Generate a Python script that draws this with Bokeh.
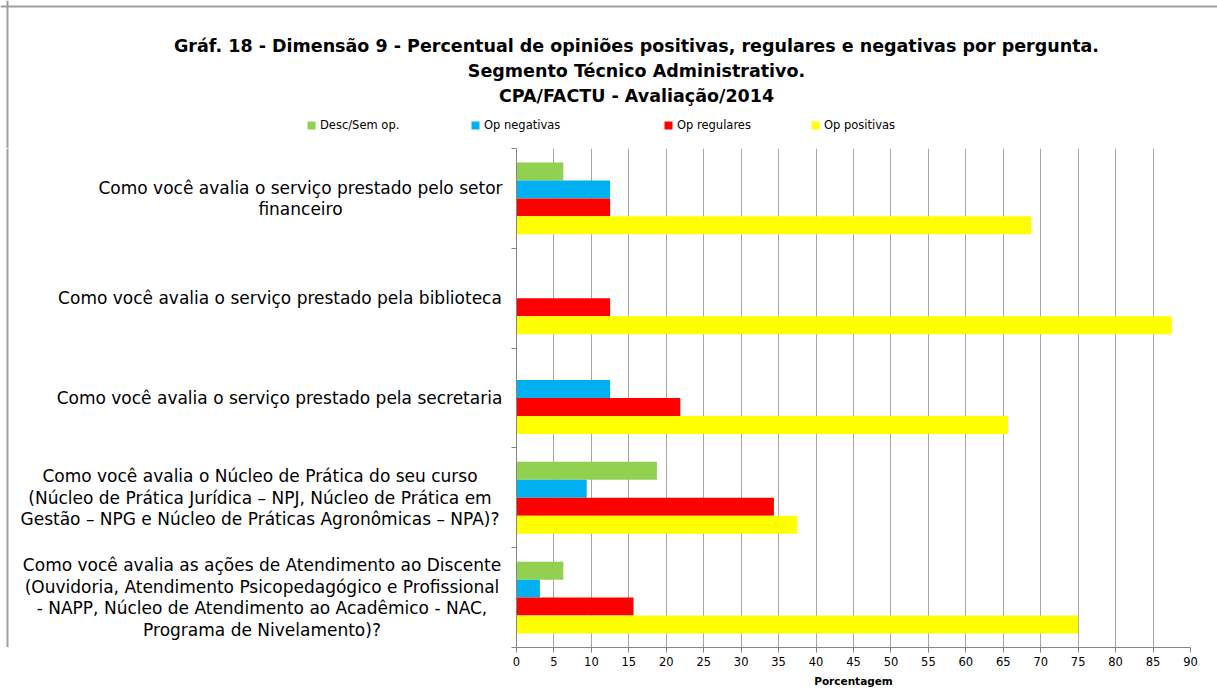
from bokeh.plotting import figure
from bokeh.layouts import column, row
from bokeh.models import (Range1d, FixedTicker, Legend, LegendItem, ColumnDataSource, Label,
                          Span, CustomJSTickFormatter)
from bokeh.embed import file_html
from bokeh.resources import INLINE

categories = [
    "Como você avalia o serviço prestado pelo setor\nfinanceiro",
    "Como você avalia o serviço prestado pela biblioteca",
    "Como você avalia o serviço prestado pela secretaria",
    "Como você avalia o Núcleo de Prática do seu curso\n(Núcleo de Prática Jurídica – NPJ, Núcleo de Prática em\nGestão – NPG e Núcleo de Práticas Agronômicas – NPA)?",
    "Como você avalia as ações de Atendimento ao Discente\n(Ouvidoria, Atendimento Psicopedagógico e Profissional\n- NAPP, Núcleo de Atendimento ao Acadêmico - NAC,\nPrograma de Nivelamento)?",
]
series_names = ["Desc/Sem op.", "Op negativas", "Op regulares", "Op positivas"]
desc = [6.25, 0, 0, 18.75, 6.25]
neg = [12.5, 0, 12.5, 9.375, 3.125]
reg = [12.5, 12.5, 21.875, 34.375, 15.625]
pos = [68.75, 87.5, 65.625, 37.5, 75.0]
x_ticks = list(range(0, 95, 5))
title_lines = [
    "Gráf. 18 - Dimensão 9 - Percentual de opiniões positivas, regulares e negativas por pergunta.",
    "Segmento Técnico Administrativo.",
    "CPA/FACTU - Avaliação/2014",
]
x_label = "Porcentagem"

colors = ["#92D050", "#00B0F0", "#FF0000", "#FFFF00"]
offsets = [0.27, 0.09, -0.09, -0.27]
FONT = "DejaVu Sans"
BORDER = "#A0A0A0"

n = len(categories)
base = [n - 1 - i for i in range(n)]
y_range = Range1d(-0.5, n - 0.5)

# ---------- top strip: title + legend ----------
TOP_H = 148
top = figure(width=1217, height=TOP_H, output_backend="svg", toolbar_location=None,
             x_range=Range1d(0, 1217), y_range=Range1d(0, TOP_H),
             x_axis_location=None, y_axis_location=None,
             min_border=0)
top.outline_line_color = None
top.xgrid.visible = False
top.ygrid.visible = False

title_y = [103, 78, 53]
for t, ty in zip(title_lines, title_y):
    top.add_layout(Label(x=636, y=ty, x_units="screen", y_units="screen", text=t,
                         text_align="center", text_baseline="middle", text_font=FONT,
                         text_font_size="17.5px", text_font_style="bold", text_color="black"))

# legend proxies (kept outside the visible strip)
leg_x = [306, 470, 663, 810]
for name, col, lx in zip(series_names, colors, leg_x):
    r = top.hbar(y=[-50], left=[0], right=[1], height=1, fill_color=col, line_color=None)
    lg = Legend(items=[LegendItem(label=name, renderers=[r])], location=(lx, 16),
                orientation="horizontal", padding=0, margin=0, spacing=0,
                glyph_width=10, glyph_height=10, label_standoff=4, label_height=14,
                label_text_font=FONT, label_text_font_size="11.5px", label_text_color="black",
                border_line_color=None, background_fill_alpha=0)
    top.add_layout(lg, "center")

top.add_layout(Span(location=TOP_H - 6, dimension="width", line_color=BORDER, line_width=2))
top.add_layout(Span(location=7, dimension="height", line_color=BORDER, line_width=2))

# ---------- left strip: category texts ----------
left = figure(width=508, height=550, output_backend="svg", toolbar_location=None,
              x_range=Range1d(0, 508), y_range=y_range,
              x_axis_location=None, y_axis_location=None,
              min_border_left=0, min_border_right=0, min_border_top=0, min_border_bottom=51)
left.outline_line_color = None
left.xgrid.visible = False
left.ygrid.visible = False
label_x = [300, 279.5, 279, 259.5, 261.5]
for i, cat in enumerate(categories):
    left.add_layout(Label(x=label_x[i], y=base[i], x_units="screen", y_units="data",
                          text=cat, text_align="center", text_baseline="middle",
                          text_font=FONT, text_font_size="17px", text_color="black",
                          text_line_height=1.08))
left.add_layout(Span(location=7, dimension="height", line_color=BORDER, line_width=2))

# ---------- main bar chart ----------
p = figure(width=709, height=550, output_backend="svg", toolbar_location=None,
           x_range=Range1d(0, 90), y_range=y_range,
           min_border_left=8, min_border_right=27, min_border_top=0, min_border_bottom=51)
p.outline_line_color = None

for vals, col, off in zip([desc, neg, reg, pos], colors, offsets):
    src = ColumnDataSource(dict(y=[b + off for b in base], right=vals))
    p.hbar(y="y", left=0, right="right", height=0.18, source=src,
           fill_color=col, line_color=None)

p.xaxis.ticker = FixedTicker(ticks=x_ticks)
p.xaxis.axis_line_color = "#868686"
p.xaxis.major_tick_line_color = "#868686"
p.xaxis.major_tick_out = 5
p.xaxis.major_tick_in = 0
p.xaxis.minor_tick_line_color = None
p.xaxis.major_label_text_font = FONT
p.xaxis.major_label_text_font_size = "11.5px"
p.xaxis.major_label_text_color = "black"
p.xaxis.major_label_standoff = 4
p.xaxis.axis_label = x_label
p.xaxis.axis_label_text_font = FONT
p.xaxis.axis_label_text_font_size = "10.5px"
p.xaxis.axis_label_text_font_style = "bold"
p.xaxis.axis_label_text_color = "black"
p.xaxis.axis_label_standoff = 6

p.yaxis.ticker = FixedTicker(ticks=[i - 0.5 for i in range(n + 1)])
p.yaxis.formatter = CustomJSTickFormatter(code="return ''")
p.yaxis.axis_line_color = "#868686"
p.yaxis.major_tick_line_color = "#868686"
p.yaxis.major_tick_out = 5
p.yaxis.major_tick_in = 0
p.yaxis.minor_tick_line_color = None
p.yaxis.major_label_standoff = 0

p.xgrid.ticker = FixedTicker(ticks=x_ticks)
p.xgrid.grid_line_color = "#A6A6A6"
p.ygrid.grid_line_color = None

layout = column(top, row(left, p, spacing=0), spacing=0)
open("out.html", "w").write(file_html(layout, INLINE))
